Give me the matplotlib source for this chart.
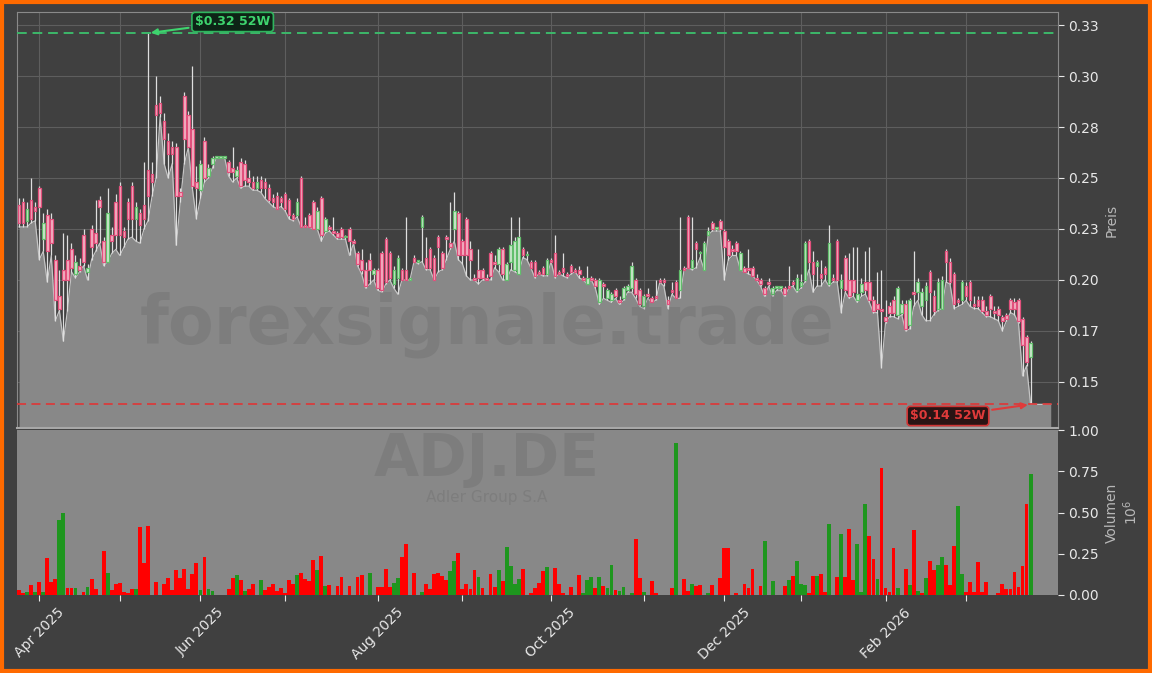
import matplotlib
matplotlib.use('Agg')
import matplotlib.pyplot as plt
import matplotlib.patches as patches
from matplotlib.ticker import FormatStrFormatter

# daily candles, Xetra trading days from late March 2025
opens = [
    .237, .238, .229, .239, .236, .245, .220, .232, .230, .210,
    .192, .205, .210, .215, .203, .207, .222, .204, .225, .223,
    .239, .219, .209, .222, .238, .246, .224, .238, .246, .230,
    .233, .237, .254, .252, .286, .287, .278, .268, .265, .265,
    .243, .290, .281, .274, .248, .244, .268, .251, .257, .260,
    .260, .260, .258, .255, .251, .258, .257, .250, .248, .245,
    .249, .248, .245, .240, .241,
    .240, .242, .239, .232, .232, .250, .227, .232, .238, .225,
    .240, .224, .226, .224, .223, .225, .221, .225, .219, .213,
    .210, .205, .210, .203, .205, .213, .220, .213, .198, .201,
    .205, .205, .200, .211, .209, .226, .211, .215, .211, .221,
    .213, .221, .218, .225, .233, .219, .230, .215, .201, .205,
    .205, .201, .213, .209, .208, .215, .200, .209, .205, .203,
    .215, .212, .209, .209,
    .204, .206, .203, .210, .213, .204, .206, .203, .207, .205,
    .205, .201, .198, .201, .200, .189, .198, .191, .190, .195,
    .190, .191, .195, .196, .200, .195, .187, .193, .191, .192,
    .200, .200, .190, .195, .199, .195, .206, .231, .206, .218,
    .213, .205, .222, .228, .225, .229, .224, .219, .215, .218,
    .205, .206, .206, .206, .201, .200, .196, .199, .193, .196,
    .196, .196, .197, .199, .195,
    .197, .200, .219, .209, .207, .203, .206, .198, .201, .219,
    .196, .211, .200, .200, .190, .194, .199, .199, .190, .188,
    .186, .182, .187, .190, .183, .184, .188, .178, .194, .194,
    .187, .190, .204, .192, .186, .186, .214, .209, .203, .190,
    .190, .197, .199, .188, .190, .190, .185, .192, .185, .186,
    .182, .183, .190, .189, .190, .181, .172, .162,
]
closes = [
    .228, .228, .235, .230, .234, .236, .228, .214, .218, .190,
    .186, .200, .200, .206, .209, .205, .209, .206, .216, .218,
    .236, .209, .233, .219, .222, .222, .221, .230, .230, .236,
    .227, .230, .241, .248, .281, .282, .269, .262, .262, .241,
    .241, .269, .265, .246, .245, .257, .250, .255, .260, .260,
    .260, .260, .253, .253, .254, .246, .249, .248, .245, .248,
    .245, .245, .239, .238, .235,
    .238, .235, .232, .230, .238, .226, .226, .226, .225, .234,
    .222, .230, .225, .223, .221, .221, .221, .219, .218, .208,
    .205, .197, .205, .205, .196, .195, .199, .201, .205, .211,
    .200, .200, .200, .209, .209, .231, .206, .206, .200, .216,
    .206, .220, .216, .234, .212, .212, .212, .210, .200, .201,
    .201, .200, .202, .208, .215, .203, .208, .217, .219, .221,
    .212, .212, .206, .202,
    .203, .203, .210, .209, .202, .203, .204, .202, .204, .204,
    .203, .200, .201, .200, .197, .200, .197, .195, .193, .192,
    .189, .196, .197, .207, .193, .188, .192, .192, .189, .191,
    .199, .199, .188, .194, .191, .205, .205, .206, .210, .215,
    .213, .218, .224, .225, .225, .225, .216, .212, .214, .214,
    .213, .204, .205, .202, .200, .198, .193, .198, .196, .196,
    .196, .193, .196, .198, .201,
    .199, .218, .209, .203, .209, .201, .203, .218, .200, .200,
    .200, .195, .192, .194, .193, .198, .195, .190, .185, .186,
    .185, .180, .184, .184, .196, .188, .176, .190, .193, .199,
    .194, .197, .194, .185, .199, .200, .209, .199, .188, .189,
    .199, .192, .190, .187, .187, .185, .183, .186, .184, .183,
    .180, .181, .186, .186, .180, .168, .160, .169,
]
highs = [
    .240, .240, .238, .250, .238, .246, .233, .235, .233, .212,
    .205, .223, .222, .218, .212, .211, .225, .208, .227, .239,
    .241, .221, .245, .226, .242, .248, .226, .240, .248, .238,
    .235, .258, .321, .258, .300, .290, .282, .272, .268, .267,
    .245, .292, .283, .305, .256, .259, .270, .257, .261, .261,
    .261, .261, .259, .265, .256, .260, .259, .254, .251, .251,
    .251, .250, .247, .242, .243,
    .241, .243, .240, .233, .240, .251, .231, .233, .239, .236,
    .241, .231, .227, .231, .224, .226, .222, .226, .220, .214,
    .215, .209, .213, .206, .206, .214, .221, .214, .207, .212,
    .206, .231, .201, .212, .210, .232, .221, .216, .212, .222,
    .214, .222, .238, .243, .234, .220, .231, .219, .203, .215,
    .206, .203, .214, .212, .216, .216, .209, .231, .221, .231,
    .216, .214, .210, .210,
    .205, .207, .211, .211, .222, .205, .213, .204, .208, .206,
    .207, .202, .207, .202, .201, .201, .199, .196, .194, .196,
    .192, .197, .198, .209, .201, .196, .193, .196, .192, .200,
    .201, .201, .192, .199, .200, .231, .207, .232, .231, .219,
    .214, .219, .226, .229, .226, .230, .225, .220, .217, .219,
    .214, .207, .215, .207, .203, .201, .197, .201, .197, .197,
    .197, .197, .207, .200, .203,
    .203, .219, .220, .214, .210, .210, .207, .227, .203, .220,
    .203, .212, .213, .216, .216, .201, .214, .216, .192, .204,
    .205, .190, .189, .192, .197, .190, .190, .191, .214, .201,
    .196, .199, .205, .195, .201, .202, .215, .211, .204, .191,
    .200, .199, .200, .192, .192, .192, .187, .193, .187, .187,
    .183, .184, .191, .191, .191, .182, .173, .170,
]
lows = [
    .226, .226, .226, .228, .229, .210, .214, .199, .212, .180,
    .185, .170, .185, .204, .201, .204, .207, .200, .210, .214,
    .218, .207, .209, .213, .215, .212, .216, .220, .221, .219,
    .218, .225, .229, .241, .250, .280, .257, .250, .257, .217,
    .238, .257, .265, .245, .230, .240, .248, .250, .255, .260,
    .260, .260, .251, .248, .250, .245, .246, .246, .244, .244,
    .243, .240, .238, .236, .235,
    .236, .234, .230, .229, .231, .226, .226, .226, .225, .225,
    .219, .223, .224, .222, .220, .220, .220, .212, .218, .207,
    .203, .196, .198, .200, .195, .194, .198, .200, .196, .193,
    .200, .200, .200, .209, .208, .209, .205, .205, .200, .204,
    .205, .210, .215, .219, .210, .208, .202, .200, .200, .198,
    .200, .200, .200, .206, .204, .200, .200, .205, .204, .203,
    .211, .210, .206, .201,
    .203, .202, .202, .209, .201, .203, .202, .201, .203, .204,
    .201, .200, .198, .200, .196, .188, .191, .190, .189, .191,
    .188, .190, .194, .194, .191, .187, .186, .191, .189, .190,
    .199, .197, .186, .193, .191, .191, .205, .206, .205, .206,
    .211, .205, .222, .224, .224, .224, .200, .210, .212, .212,
    .205, .204, .203, .202, .200, .197, .192, .197, .192, .195,
    .195, .192, .196, .197, .194,
    .196, .199, .205, .194, .197, .197, .200, .197, .199, .199,
    .184, .194, .191, .192, .189, .192, .193, .189, .184, .184,
    .157, .179, .182, .182, .181, .183, .175, .176, .187, .190,
    .183, .180, .180, .183, .185, .186, .199, .198, .186, .187,
    .188, .190, .187, .186, .186, .184, .182, .182, .181, .180,
    .175, .180, .184, .183, .179, .153, .158, .139,
]
# area keeps running a few sessions past the last candle
area_tail = [.139, .139, .139, .139, .139]

# volume in millions, 1 = up day (green), 0 = down day (red)
volume = [
    .03, .01, .016, .06, .016, .077, .016, .224, .08, .097,
    .455, .497, .042, .042, .042, 0, .018, .05, .10, .036,
    0, .267, .131, .03, .067, .073, .018, .014, .034, .034,
    .412, .194, .416, 0, .079, 0, .067, .103, .03, .152,
    .103, .158, .034, .127, .194, .028, .23, .036, .024, 0,
    0, 0, .036, .103, .121, .091, .024, .036, .067, 0,
    .091, .03, .048, .067, .024, .042, .012, .091, .067, .121,
    .133, .097, .085, .212, .152, .236, .055, .061, 0, .055,
    .109, 0, .055, 0, .109, .121, 0, .133, 0, .048,
    .048, .158, .048, .073, .103, .23, .309, 0, .133, 0,
    .018, .067, .036, .127, .133, .115, .091, .145, .206, .255,
    .036, .067, .036, .152, .109, .042, 0, .127, .048, .152,
    .085, .291, .176, .067, .097, .158, 0, .012, .042, .073,
    .145, .17, 0, .164, .067, .012, 0, .048, 0, .121,
    .012, .091, .109, .042, .109, .055, .042, .182, .03, .024,
    .048, 0, .012, .339, .103, .018, 0, .085, .012, 0,
    0, 0, .042, .921, 0, .097, .024, .067, .055, .061,
    0, .012, .061, 0, .103, .285, .285, 0, .012, 0,
    .067, .042, .158, 0, .055, .327, 0, .085, 0, 0,
    .055, .091, .115, .206, .067, .061, .012, .115, .115, .127,
    .018, .43, 0, .109, .37, .109, .40, .09, .31, .02,
    .55, .36, .22, .10, .77, .042, .018, .285, .042, 0,
    .158, .06, .394, .024, .012, .103, .206, .152, .18, .23,
    .18, .06, .297, .54, .127, .018, .079, .018, .2, .018,
    .079, 0, 0, .012, .067, .036, .036, .139, .048, .176,
    .55, .733, 0, 0, 0, 0, 0,
]
vol_up = [
    0, 0, 1, 0, 1, 0, 1, 0, 0, 0,
    1, 1, 0, 0, 1, 0, 0, 1, 0, 0,
    0, 0, 1, 0, 0, 0, 0, 0, 0, 1,
    0, 0, 0, 0, 0, 0, 0, 0, 0, 0,
    0, 0, 0, 0, 0, 1, 0, 1, 1, 0,
    0, 0, 0, 0, 1, 0, 1, 0, 0, 0,
    1, 0, 0, 0, 0, 0, 0, 0, 0, 1,
    0, 0, 0, 0, 1, 0, 1, 0, 0, 0,
    0, 0, 0, 0, 0, 0, 0, 1, 0, 0,
    0, 0, 0, 1, 1, 0, 0, 0, 0, 0,
    1, 0, 0, 0, 0, 0, 0, 1, 1, 0,
    0, 0, 0, 0, 1, 0, 0, 0, 0, 1,
    0, 1, 1, 1, 1, 0, 0, 0, 0, 0,
    0, 1, 0, 0, 0, 0, 0, 0, 0, 0,
    1, 1, 1, 0, 1, 0, 1, 1, 0, 1,
    1, 0, 1, 0, 0, 1, 0, 0, 0, 0,
    0, 0, 0, 1, 0, 0, 0, 1, 0, 0,
    0, 1, 0, 0, 0, 0, 0, 0, 0, 0,
    0, 0, 0, 0, 0, 1, 0, 1, 0, 0,
    0, 1, 0, 1, 1, 1, 0, 0, 1, 0,
    0, 1, 0, 0, 1, 0, 0, 0, 1, 1,
    1, 0, 0, 1, 0, 0, 0, 0, 1, 0,
    0, 1, 0, 1, 0, 1, 0, 0, 1, 1,
    0, 0, 0, 1, 1, 0, 0, 0, 0, 0,
    0, 0, 0, 0, 0, 0, 0, 0, 0, 0,
    0, 1, 0, 0, 0, 0, 0,
]

# first trading session of each month (index into the series)
month_idx = [5, 25, 45, 66, 89, 110, 132, 155, 175, 194, 215, 235]
month_labels = ['Apr 2025', '', 'Jun 2025', '', 'Aug 2025', '', 'Oct 2025', '',
                'Dec 2025', '', 'Feb 2026', '']
price_ticks = [0.15, 0.175, 0.2, 0.225, 0.25, 0.275, 0.3, 0.325]
vol_ticks = [0.0, 0.25, 0.5, 0.75, 1.0]

BG = '#404040'
AREA = '#888888'

fig = plt.figure(figsize=(11.52, 6.73), dpi=100, facecolor=BG)
ax = fig.add_axes([0.0148, 0.3640, 0.9036, 0.6182], facecolor=BG)
axv = fig.add_axes([0.0148, 0.1159, 0.9036, 0.2451], facecolor=AREA, sharex=ax)

n = len(closes)
x_area = list(range(len(lows) + len(area_tail)))
area = lows + area_tail

ax.fill_between(x_area, area, 0, color=AREA, lw=0, zorder=1)
ax.plot(x_area, area, color='#c4c4c4', lw=0.9, zorder=2)

# candles
ax.vlines(range(n), lows, highs, color='#dedede', lw=0.9, zorder=3)
for i in range(n):
    o, c = opens[i], closes[i]
    if c >= o:
        face, edge = '#cfe9d0', '#62bf6c'
    else:
        face, edge = '#f2b5c5', '#e2507c'
    ax.bar(i, max(abs(c - o), 0.0008), bottom=min(o, c), width=0.64,
           color=face, edgecolor=edge, lw=0.9, zorder=4)

hi52 = max(highs)
lo52 = min(lows)
hi_i = highs.index(hi52)
lo_i = lows.index(lo52)
ax.axhline(hi52, color='#3cb86a', lw=1.4, ls=(0, (5, 3)), zorder=5)
ax.axhline(lo52, color='#d83c3c', lw=1.3, ls=(0, (5, 3)), zorder=5)

ax.annotate('\\$%.2f 52W' % hi52, xy=(hi_i, hi52), xytext=(53, 0.3265),
            color='#3ed46e', fontsize=9, fontweight='bold', ha='center', va='center',
            bbox=dict(boxstyle='round,pad=0.25', fc='#0d2416', ec='#2fb45e', lw=1.2),
            arrowprops=dict(arrowstyle='-|>', color='#3ed46e', lw=1.5, mutation_scale=9),
            zorder=6)
ax.annotate('\\$%.2f 52W' % lo52, xy=(lo_i, lo52), xytext=(230.5, 0.1333),
            color='#e03a3a', fontsize=9, fontweight='bold', ha='center', va='center',
            bbox=dict(boxstyle='round,pad=0.25', fc='#2a1414', ec='#d03434', lw=1.2),
            arrowprops=dict(arrowstyle='-|>', color='#e03a3a', lw=1.5, mutation_scale=9),
            zorder=6)

ax.set_xlim(-0.5, 257.8)
ax.set_ylim(0.1274, 0.3314)
ax.set_yticks(price_ticks)
ax.yaxis.set_major_formatter(FormatStrFormatter('%.2f'))
ax.yaxis.tick_right()
ax.yaxis.set_label_position('right')
ax.set_ylabel('Preis', color='#b8b8b8', fontsize=10)
ax.grid(True, color='#5e5e5e', lw=0.8)
ax.set_axisbelow(True)
ax.tick_params(axis='y', colors='#e8e8e8', labelsize=10, length=4)
ax.tick_params(axis='x', which='both', length=0, labelbottom=False)
for s in ax.spines.values():
    s.set_color('#8a8a8a')
ax.spines['bottom'].set_color('#a8a8a8')
ax.spines['bottom'].set_linewidth(1.5)

# volume
colors = ['#1e961e' if u else '#ff0000' for u in vol_up]
axv.bar(range(len(volume)), volume, width=0.95, color=colors, lw=0)
axv.set_ylim(0, 1.0)
axv.set_yticks(vol_ticks)
axv.yaxis.set_major_formatter(FormatStrFormatter('%.2f'))
axv.yaxis.tick_right()
axv.yaxis.set_label_position('right')
axv.set_ylabel('Volumen\n$10^{6}$', color='#b8b8b8', fontsize=10)
axv.tick_params(axis='y', colors='#e8e8e8', labelsize=10, length=4)
axv.set_xticks(month_idx)
axv.set_xticklabels(month_labels, rotation=45, ha='center')
axv.tick_params(axis='x', colors='#e8e8e8', labelsize=10, length=4)
for s in axv.spines.values():
    s.set_visible(False)

# watermarks
fig.text(0.4227, 0.517, 'forexsignale.trade', fontsize=48, fontweight='bold',
         color='#303030', alpha=0.12, ha='center', va='center')
fig.text(0.4227, 0.2927, 'ADJ.DE', fontsize=42, fontweight='bold',
         color='#303030', alpha=0.12, ha='center', va='baseline')
fig.text(0.4227, 0.2541, 'Adler Group S.A', fontsize=11,
         color='#303030', alpha=0.12, ha='center', va='baseline')

fig.patches.append(patches.Rectangle((0.0015, 0.0025), 0.997, 0.995, transform=fig.transFigure,
                                     fill=False, ec='#ff6a00', lw=3))

fig.savefig('out.png', dpi=100, facecolor=BG)
